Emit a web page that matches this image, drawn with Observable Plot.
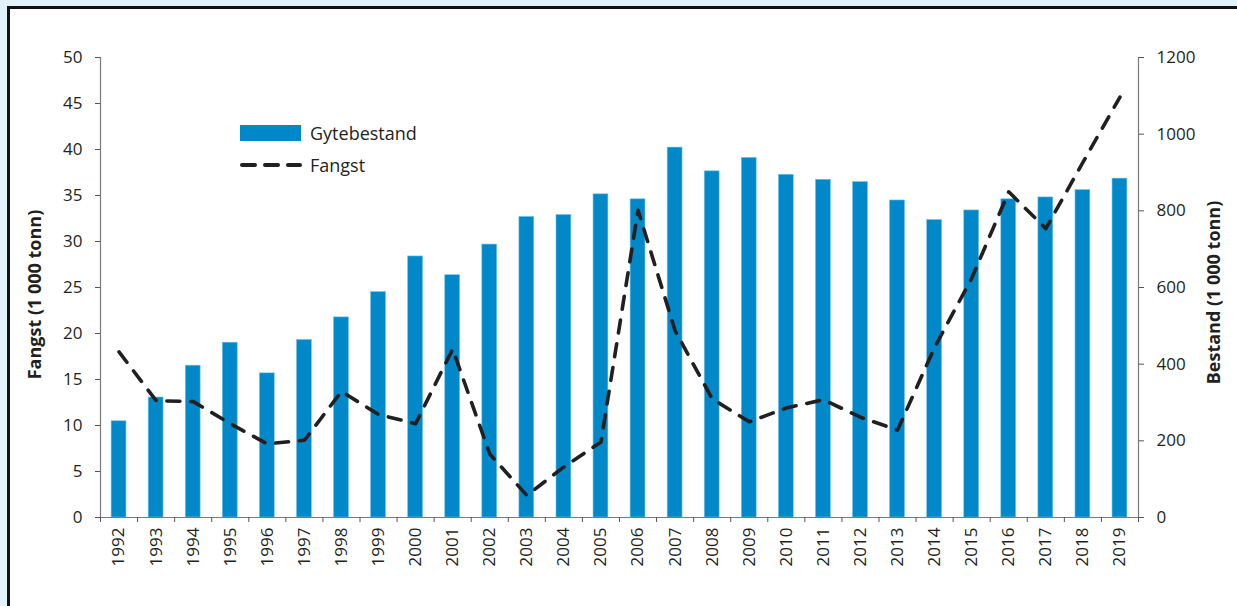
<!DOCTYPE html>
<html>
<head>
<meta charset="utf-8">
<script src="https://cdn.jsdelivr.net/npm/d3@7"></script>
<script src="https://cdn.jsdelivr.net/npm/@observablehq/plot@0.6"></script>
<style>
  html, body { margin:0; padding:0; }
  body { width:1237px; height:606px; background:#e1f2fa; position:relative; overflow:hidden; font-family:"Open Sans", sans-serif; }
  #frame { position:absolute; left:7px; top:6px; width:1240px; height:610px; background:#fff; border-left:3px solid #111; border-top:3px solid #111; }
  #chart { position:absolute; left:0; top:0; }
  #legend { position:absolute; left:240px; top:117px; font-size:18px; color:#231f20; }
  .row { display:flex; align-items:center; height:32px; }
  .row svg { margin-right:8px; }
</style>
</head>
<body>
<div id="frame"></div>
<div id="chart"></div>
<div id="legend">
  <div class="row"><svg width="62" height="16"><rect x="0" y="0" width="61" height="16" fill="#0088c9"></rect></svg><span>Gytebestand</span></div>
  <div class="row"><svg width="62" height="8"><line x1="2" y1="4" x2="60" y2="4" stroke="#231f20" stroke-width="4" stroke-linecap="round" stroke-dasharray="13,10"></line></svg><span>Fangst</span></div>
</div>
<script>
const years = [1992,1993,1994,1995,1996,1997,1998,1999,2000,2001,2002,2003,2004,2005,2006,2007,2008,2009,2010,2011,2012,2013,2014,2015,2016,2017,2018,2019];
const gytebestand = [251,313,396,456,376,463,522,588,681,632,712,784,789,843,830,965,903,938,894,881,875,827,776,801,830,835,854,884];
const fangst = [18.0,12.7,12.6,10.2,8.0,8.4,13.7,11.2,10.2,18.3,6.9,2.4,5.5,8.2,33.4,20.3,12.9,10.4,11.9,12.8,10.9,9.5,18.5,26.0,35.4,31.4,38.6,45.7];
const leftTicks = [0,5,10,15,20,25,30,35,40,45,50];
const rightTicks = [0,200,400,600,800,1000,1200];
const leftTitle = "Fangst (1 000 tonn)";
const rightTitle = "Bestand (1 000 tonn)";

const ratio = 1200 / 50;
const data = years.map((y, i) => ({year: y, bestand: gytebestand[i], fangst: fangst[i]}));
const boundaries = years.map(y => y - 0.5).concat([years[years.length - 1] + 0.5]);
const x0 = years[0] - 0.5, x1 = years[years.length - 1] + 0.5;

const chart = Plot.plot({
  width: 1237,
  height: 606,
  marginLeft: 100,
  marginRight: 99,
  marginTop: 57,
  marginBottom: 89,
  x: {domain: [x0, x1], axis: null},
  y: {domain: [0, 50], axis: null},
  style: {fontFamily: "'Open Sans', sans-serif", fontSize: "17px", color: "#231f20", background: "transparent"},
  marks: [
    Plot.rectY(data, {x1: d => d.year - 0.2, x2: d => d.year + 0.2, y1: 0, y2: d => d.bestand / ratio, fill: "#0088c9", stroke: "#6cc0e8", strokeWidth: 0.6}),
    Plot.line(data, {x: "year", y: "fangst", stroke: "#231f20", strokeWidth: 3.6, strokeDasharray: "13,11", strokeLinecap: "round", strokeLinejoin: "round"}),
    Plot.ruleX([x0], {stroke: "#7a7a7a", strokeWidth: 1.2}),
    Plot.ruleX([x1], {stroke: "#7a7a7a", strokeWidth: 1.2}),
    Plot.ruleY([0], {stroke: "#7a7a7a", strokeWidth: 1.2}),
    Plot.axisY({anchor: "left", ticks: leftTicks, tickSize: 5, tickPadding: 13, label: null, stroke: "#555", fontSize: 17}),
    Plot.axisY({anchor: "right", ticks: rightTicks.map(v => v / ratio), tickFormat: d => String(Math.round(d * ratio)), tickSize: 5, tickPadding: 13, label: null, stroke: "#555", fontSize: 17}),
    Plot.axisX({ticks: boundaries, tickSize: 5, tickFormat: () => "", label: null, stroke: "#555"}),
    Plot.axisX({ticks: years, tickSize: 0, tickPadding: 10, tickRotate: -90, tickFormat: d => String(d), label: null, fontSize: 17}),
    Plot.text([leftTitle], {frameAnchor: "left", textAnchor: "middle", rotate: -90, dx: -65, dy: 7, fontWeight: "bold", fontSize: 18, fill: "#231f20"}),
    Plot.text([rightTitle], {frameAnchor: "right", textAnchor: "middle", rotate: -90, dx: 76, dy: 5, fontWeight: "bold", fontSize: 18, fill: "#231f20"})
  ]
});
document.getElementById("chart").appendChild(chart);
</script>
</body>
</html>
